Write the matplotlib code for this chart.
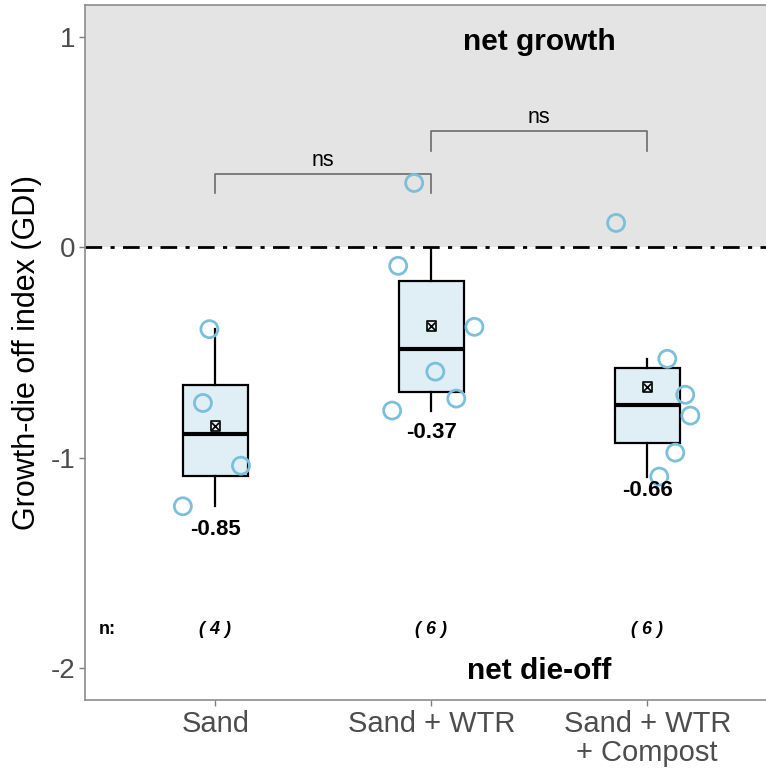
import matplotlib
matplotlib.use("Agg")
import matplotlib.pyplot as plt
import numpy as np

plt.rcParams['font.family'] = ['Liberation Sans', 'DejaVu Sans']

# Treatments and growth-die off index values per replicate
categories = ["Sand", "Sand + WTR", "Sand + WTR\n+ Compost"]
gdi_sand = [-0.389, -0.740, -1.038, -1.231]
gdi_wtr = [0.306, -0.088, -0.378, -0.591, -0.719, -0.776]
gdi_compost = [0.116, -0.530, -0.701, -0.800, -0.976, -1.090]
# horizontal jitter applied to the replicate points
jitter_sand = [-0.027, -0.057, 0.119, -0.150]
jitter_wtr = [-0.079, -0.153, 0.200, 0.019, 0.116, -0.181]
jitter_compost = [-0.144, 0.093, 0.176, 0.200, 0.130, 0.056]
mean_labels = ["-0.85", "-0.37", "-0.66"]
mean_label_y = [-1.34, -0.88, -1.157]
n_labels = ["( 4 )", "( 6 )", "( 6 )"]
# pairwise comparisons: (group a, group b, bracket height, tip height, label)
comparisons = [(1, 2, 0.349, 0.258, "ns"), (2, 3, 0.553, 0.458, "ns")]

groups = [gdi_sand, gdi_wtr, gdi_compost]
jitters = [jitter_sand, jitter_wtr, jitter_compost]
positions = np.arange(1, len(categories) + 1)

fig = plt.figure(figsize=(7.66, 7.70), dpi=100)
ax = fig.add_axes([85 / 766, 1 - 700 / 770, 681 / 766, 695 / 770])

ymin, ymax = -2.152, 1.152
ax.set_xlim(0.397, 3.55)
ax.set_ylim(ymin, ymax)

# boxplots without outliers (replicates are drawn separately)
ax.boxplot(groups, positions=positions, widths=0.30, showfliers=False,
           patch_artist=True, whis=1.5,
           boxprops=dict(facecolor="#e0eff5", edgecolor="black", linewidth=1.6),
           medianprops=dict(color="black", linewidth=3),
           whiskerprops=dict(color="black", linewidth=1.6),
           capprops=dict(linewidth=0), zorder=1)

# shaded net growth region
ax.axhspan(0, ymax, facecolor="#e4e4e4", edgecolor="none", zorder=1.5)
ax.axhline(0, color="black", linestyle=(0, (6, 3, 1.5, 3)), linewidth=2, zorder=2)

# replicate points
for pos, vals, jit in zip(positions, groups, jitters):
    ax.scatter(pos + np.array(jit), vals, s=150, facecolors="none",
               edgecolors="#7cbfda", linewidths=2, zorder=4)

# group means
for pos, vals, lab, ly in zip(positions, groups, mean_labels, mean_label_y):
    m = np.mean(vals)
    ax.scatter([pos], [m], marker="s", s=45, facecolors="none",
               edgecolors="black", linewidths=1.2, zorder=5)
    ax.scatter([pos], [m], marker="x", s=30, color="black", linewidths=1.2, zorder=5)
    ax.text(pos, ly, lab, ha="center", va="center", fontsize=16,
            fontweight="bold", color="black", zorder=6)

# significance brackets
for a, b, h, tip, lab in comparisons:
    ax.plot([a, a, b, b], [tip, h, h, tip], color="#6b6b6b", linewidth=1.2, zorder=3)
    ax.text((a + b) / 2, h + 0.012, lab, ha="center", va="bottom",
            fontsize=15.5, color="black", zorder=6)

# sample sizes
ax.text(0.50, -1.817, "n:", ha="center", va="center", fontsize=13,
        fontweight="bold", color="black")
for pos, lab in zip(positions, n_labels):
    ax.text(pos, -1.817, lab, ha="center", va="center", fontsize=13,
            fontweight="bold", fontstyle="italic", color="black")

ax.text(2.5, 0.975, "net growth", ha="center", va="center", fontsize=21.5,
        fontweight="bold", color="black", zorder=6)
ax.text(2.5, -2.015, "net die-off", ha="center", va="center", fontsize=21.5,
        fontweight="bold", color="black", zorder=6)

ax.set_xticks(positions)
ax.set_xticklabels(categories, fontsize=21, color="#4d4d4d", linespacing=1.05)
ax.set_yticks([1, 0, -1, -2])
ax.set_yticklabels(["1", "0", "-1", "-2"], fontsize=20, color="#4d4d4d")
ax.tick_params(axis="both", length=4, width=1, color="#7f7f7f", pad=3)
ax.set_ylabel("Growth-die off index (GDI)", fontsize=22, color="black", labelpad=6)

for side in ["left", "bottom", "top"]:
    ax.spines[side].set_color("#8c8c8c")
    ax.spines[side].set_linewidth(1.2)
ax.spines["right"].set_visible(False)
ax.set_facecolor("white")

fig.savefig("out.png", dpi=100)
